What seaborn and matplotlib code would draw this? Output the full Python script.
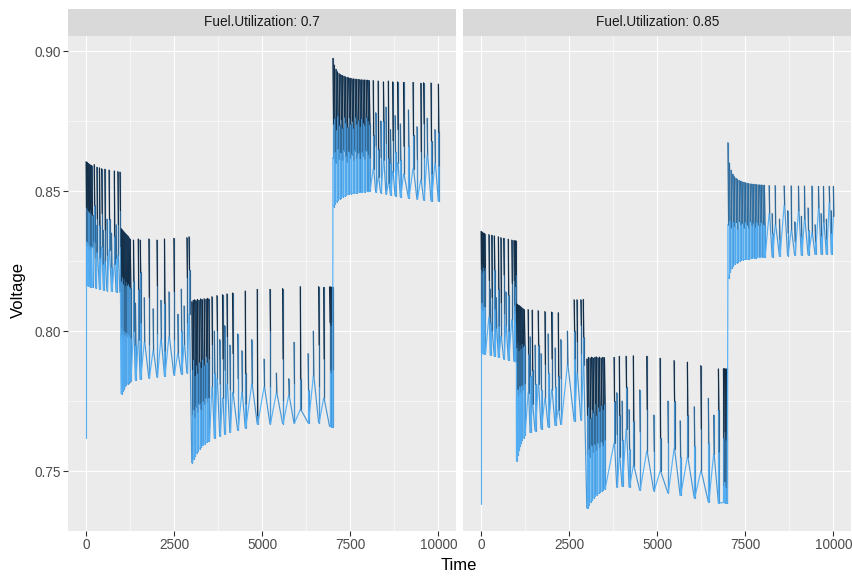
import matplotlib
matplotlib.use("Agg")
import matplotlib.pyplot as plt
import seaborn as sns
import pandas as pd
from matplotlib.colors import LinearSegmentedColormap, to_hex
from matplotlib.patches import Rectangle
from matplotlib.ticker import FixedLocator

# ---------------------------------------------------------------- data
FACETS = ["Fuel.Utilization: 0.7", "Fuel.Utilization: 0.85"]
# relative current level of the four steps of every sweep (low -> high)
CURRENT_LEVELS = [0.0, 0.45, 0.8, 1.0]
X_TICKS = [0, 2500, 5000, 7500, 10000]
Y_TICKS = [0.75, 0.80, 0.85, 0.90]

# first reading of each run (time h, voltage mV)
FU70_START = (0, 762.0)
FU85_START = (0, 738.3)

# sweeps, Fuel.Utilization 0.7 : time, voltage at current level 1..4 (mV), kind
FU70_T = [0, 20, 40, 60, 85, 110, 135, 160,
          230, 270, 305, 380, 440, 490, 530, 590, 650, 720, 800, 850, 900, 960,
          1000, 1025, 1050, 1075, 1100, 1130, 1160, 1190, 1220, 1250,
          1345, 1400, 1480, 1535, 1650, 1780, 1900, 2010, 2120, 2225, 2350, 2490, 2600, 2700, 2780, 2860, 2920,
          3000, 3040, 3080, 3120, 3160, 3200, 3250, 3300, 3350, 3400, 3440, 3480,
          3571, 3640, 3713, 3790, 3872, 3930, 3997, 4080, 4156, 4300, 4420, 4517, 4700, 4858, 5050, 5219,
          5400, 5577, 5750, 5900, 6080, 6300, 6450, 6600, 6742,
          6910, 6940, 6970, 6995,
          7005, 7045, 7090, 7135, 7180, 7225, 7270, 7315, 7360, 7405, 7450, 7495, 7540, 7585, 7630, 7675,
          7720, 7765, 7810, 7855, 7900, 7945, 7990, 8035,
          8150, 8220, 8290, 8360, 8440, 8510, 8580, 8640, 8700, 8770, 8840, 8920, 9010, 9150, 9280, 9390,
          9500, 9580, 9680, 9790, 9900, 10000]
FU70_V1 = [860.5, 860.3, 860.0, 859.8, 859.6, 859.4, 859.2, 859.0,
           859.5, 838.0, 858.5, 858.3, 858.0, 836.0, 857.8, 840.0, 857.5, 835.0, 857.2, 838.0, 857.0, 856.8,
           836.6, 836.2, 835.8, 835.4, 835.0, 834.6, 834.2, 833.8, 833.3, 832.8,
           832.5, 810.0, 832.9, 832.5, 812.0, 832.9, 808.0, 832.5, 811.0, 832.9, 814.0, 833.1, 806.0, 815.0, 809.0, 833.4, 833.7,
           810.5, 811.0, 811.2, 810.8, 811.3, 811.0, 811.5, 811.2, 811.6, 811.3, 811.7, 811.5,
           812.3, 800.0, 812.7, 797.0, 813.0, 802.0, 813.3, 795.0, 813.6, 799.0, 793.0, 814.3, 797.0, 814.9, 790.0, 814.9,
           785.0, 815.2, 783.0, 796.0, 815.9, 792.0, 800.0, 815.9, 815.6,
           815.8, 815.8, 815.7, 815.7,
           897.4, 895.0, 893.5, 892.6, 892.0, 891.6, 891.3, 891.0, 890.8, 890.6, 890.5, 890.3, 890.2, 890.1, 890.0, 889.9,
           889.9, 889.8, 889.8, 889.7, 889.7, 889.6, 889.6, 889.5,
           889.5, 878.0, 889.3, 875.0, 889.0, 880.0, 889.3, 872.0, 889.0, 877.0, 889.0, 874.0, 888.8, 879.0, 888.8, 873.0,
           888.5, 888.7, 876.0, 888.6, 872.0, 888.2]
FU70_V2 = [844.0, 844.5, 843.5, 843.0, 842.5, 843.2, 842.0, 841.5,
           845.0, 838.0, 840.0, 838.0, 842.0, 836.0, 836.0, 840.0, 840.0, 835.0, 834.0, 838.0, 838.0, 843.0,
           818.0, 819.5, 817.0, 818.5, 816.0, 817.5, 816.5, 817.0, 816.0, 815.5,
           818.0, 810.0, 815.0, 821.0, 812.0, 812.0, 808.0, 816.0, 811.0, 810.0, 814.0, 814.0, 806.0, 815.0, 809.0, 819.0, 822.0,
           786.0, 790.0, 784.0, 788.0, 785.0, 789.0, 787.0, 790.0, 788.0, 791.0, 789.0, 790.0,
           795.0, 800.0, 800.0, 797.0, 790.0, 802.0, 798.0, 795.0, 792.0, 799.0, 793.0, 785.0, 797.0, 770.0, 790.0, 800.0,
           785.0, 790.0, 783.0, 796.0, 783.0, 792.0, 800.0, 795.0, 790.0,
           803.0, 802.0, 804.0, 803.0,
           874.0, 876.0, 872.0, 877.0, 873.5, 875.5, 872.5, 876.5, 874.5, 873.0, 876.0, 874.0, 875.0, 872.5, 876.5, 874.0,
           875.5, 873.0, 876.0, 874.5, 873.5, 876.5, 875.0, 874.0,
           870.0, 878.0, 865.0, 875.0, 875.0, 880.0, 862.0, 872.0, 868.0, 877.0, 872.0, 874.0, 866.0, 879.0, 870.0, 873.0,
           864.0, 874.0, 876.0, 868.0, 872.0, 871.0]
FU70_V3 = [831.0, 832.0, 830.0, 831.5, 829.0, 830.5, 829.5, 830.0,
           832.0, 826.0, 828.0, 826.0, 830.0, 824.0, 825.0, 827.0, 829.0, 823.0, 824.0, 826.0, 827.0, 830.0,
           799.0, 801.0, 797.5, 800.0, 798.5, 799.5, 798.0, 799.0, 798.5, 797.5,
           800.0, 795.0, 797.0, 803.0, 796.0, 795.0, 793.0, 799.0, 797.0, 793.0, 798.0, 797.0, 792.0, 800.0, 795.0, 803.0, 806.0,
           770.0, 772.0, 769.0, 773.0, 771.0, 774.0, 772.0, 775.0, 774.0, 776.0, 775.0, 776.0,
           780.0, 785.0, 783.0, 781.0, 776.0, 786.0, 781.0, 779.0, 778.0, 783.0, 778.0, 774.0, 781.0, 768.0, 780.0, 780.0,
           778.0, 775.0, 777.0, 781.0, 772.0, 779.0, 784.0, 780.0, 776.0,
           786.0, 785.0, 787.0, 786.0,
           862.0, 864.0, 860.0, 865.0, 861.5, 863.5, 861.0, 864.5, 862.5, 860.5, 864.0, 862.0, 863.0, 861.0, 864.5, 862.0,
           863.5, 861.5, 864.0, 862.5, 861.5, 864.5, 863.0, 862.0,
           858.0, 866.0, 855.0, 862.0, 861.0, 867.0, 853.0, 860.0, 857.0, 864.0, 860.0, 861.0, 856.0, 866.0, 858.0, 861.0,
           854.0, 862.0, 863.0, 856.0, 860.0, 859.0]
FU70_V4 = [816.5, 816.3, 816.2, 816.1, 816.0, 815.9, 815.8, 815.7,
           815.5, 815.4, 815.2, 815.0, 814.8, 814.7, 814.6, 814.5, 814.4, 814.3, 814.2, 814.1, 814.0, 813.8,
           777.6, 778.5, 779.2, 779.8, 780.3, 780.8, 781.2, 781.6, 782.0, 782.2,
           782.4, 782.5, 782.6, 782.8, 783.0, 783.2, 783.4, 783.6, 783.8, 784.0, 784.2, 784.4, 784.6, 784.8, 785.0, 785.1, 785.2,
           753.0, 754.5, 755.5, 756.5, 757.2, 758.0, 758.7, 759.3, 759.8, 760.3, 760.6, 760.9,
           761.5, 761.8, 762.2, 762.5, 763.0, 763.2, 763.6, 763.8, 764.3, 764.6, 765.0, 765.5, 766.0, 766.9, 766.9, 766.9,
           767.0, 767.0, 767.1, 767.2, 767.2, 767.3, 767.3, 767.3, 767.2,
           766.0, 765.9, 765.9, 765.8,
           844.5, 845.5, 846.2, 846.8, 847.3, 847.7, 848.0, 848.3, 848.6, 848.8, 849.0, 849.1, 849.2, 849.3, 849.4, 849.5,
           849.6, 849.7, 849.7, 849.8, 849.8, 849.9, 849.9, 849.9,
           849.7, 849.6, 849.5, 849.4, 849.2, 849.0, 848.8, 848.7, 848.6, 848.4, 848.2, 848.0, 847.8, 847.6, 847.4, 847.2,
           847.0, 846.8, 846.7, 846.6, 846.5, 846.4]
FU70_KIND = ("dddddddd" + "ssssssssssssss" + "dddddddddd" + "sssssssssssssssss" + "dddddddddddd"
             + "sssssssssssssssssssssssss" + "dddd" + "dddddddddddddddddddddddd" + "ssssssssssssssssssssss")

# sweeps, Fuel.Utilization 0.85
FU85_T = [0, 20, 40, 60, 80, 100,
          220, 260, 300, 375, 430, 490, 560, 640, 700, 770, 870,
          930, 955, 975, 995,
          1005, 1035, 1065, 1095, 1125, 1155, 1190, 1225,
          1335, 1390, 1450, 1530, 1620, 1700, 1810, 1900, 2000, 2100, 2190, 2260, 2450, 2640, 2720, 2830, 2900,
          3000, 3045, 3090, 3135, 3180, 3225, 3270, 3315, 3360, 3405, 3450, 3500,
          3773, 3850, 3923, 4000, 4114, 4200, 4321, 4500, 4700, 4900, 5080, 5300, 5477, 5650, 5855, 6050,
          6236, 6450, 6600, 6736,
          6880, 6910, 6940, 6970,
          7005, 7050, 7095, 7140, 7185, 7230, 7275, 7320, 7365, 7410, 7455, 7500, 7545, 7590, 7635, 7680,
          7725, 7770, 7815, 7860, 7905, 7950, 7995, 8040,
          8176, 8260, 8347, 8470, 8602, 8700, 8801, 8900, 9009, 9090, 9179, 9280, 9389, 9480, 9577, 9650,
          9719, 9800, 9880, 9940, 10000]
FU85_V1 = [835.6, 835.4, 835.2, 835.0, 834.9, 834.8,
           834.5, 815.0, 834.2, 834.0, 812.0, 833.7, 833.4, 833.1, 814.0, 832.8, 832.5,
           832.3, 832.3, 832.2, 832.2,
           809.8, 809.5, 809.2, 808.9, 808.6, 808.3, 808.0, 807.7,
           807.7, 798.0, 807.5, 795.0, 807.3, 792.0, 807.0, 799.0, 806.8, 794.0, 806.6, 797.0, 800.0, 811.2, 811.2, 811.2, 811.3,
           790.0, 790.6, 790.4, 790.7, 790.3, 790.6, 790.8, 790.5, 790.7, 790.4, 790.6, 790.5,
           790.6, 778.0, 791.0, 775.0, 791.0, 772.0, 791.2, 779.0, 791.0, 770.0, 790.3, 775.0, 789.5, 768.0, 788.9, 773.0,
           787.7, 776.0, 770.0, 786.5,
           786.6, 786.6, 786.5, 786.5,
           867.3, 860.0, 857.5, 856.0, 855.2, 854.6, 854.2, 853.8, 853.5, 853.3, 853.1, 853.0, 852.8, 852.7, 852.6, 852.5,
           852.4, 852.4, 852.3, 852.3, 852.2, 852.2, 852.1, 852.1,
           852.0, 842.0, 852.0, 840.0, 851.9, 843.0, 851.9, 839.0, 851.8, 841.0, 851.8, 844.0, 851.8, 838.0, 851.7, 842.0,
           851.7, 840.0, 851.7, 843.0, 851.7]
FU85_V2 = [822.0, 824.0, 821.0, 823.0, 821.5, 822.5,
           818.0, 815.0, 812.0, 822.0, 812.0, 815.0, 810.0, 820.0, 814.0, 813.0, 817.0,
           818.0, 822.0, 816.0, 820.0,
           794.0, 796.0, 793.0, 795.0, 793.5, 795.5, 794.5, 795.0,
           792.0, 798.0, 786.0, 795.0, 795.0, 792.0, 788.0, 799.0, 790.0, 794.0, 784.0, 797.0, 800.0, 800.0, 796.0, 802.0, 798.0,
           770.0, 773.0, 769.0, 772.0, 771.0, 774.0, 770.0, 773.0, 771.5, 773.5, 772.0, 774.0,
           775.0, 778.0, 770.0, 775.0, 780.0, 772.0, 768.0, 779.0, 772.0, 770.0, 762.0, 775.0, 775.0, 768.0, 770.0, 773.0,
           765.0, 776.0, 770.0, 772.0,
           762.0, 764.0, 761.0, 763.0,
           867.3, 860.0, 857.5, 856.0, 855.2, 854.6, 854.2, 853.8, 853.5, 853.3, 853.1, 853.0, 852.8, 852.7, 852.6, 852.5,
           852.4, 852.4, 852.3, 852.3, 852.2, 852.2, 852.1, 852.1,
           852.0, 842.0, 852.0, 840.0, 851.9, 843.0, 851.9, 839.0, 851.8, 841.0, 851.8, 844.0, 851.8, 838.0, 851.7, 842.0,
           851.7, 840.0, 851.7, 843.0, 851.7]
FU85_V3 = [808.0, 810.0, 807.0, 809.0, 807.5, 808.5,
           805.0, 803.0, 800.0, 808.0, 801.0, 802.0, 798.0, 806.0, 802.0, 800.0, 804.0,
           806.0, 809.0, 803.0, 807.0,
           776.0, 779.0, 777.0, 780.0, 778.0, 780.5, 779.0, 781.0,
           778.0, 784.0, 774.0, 781.0, 781.0, 779.0, 776.0, 785.0, 779.0, 780.0, 772.0, 783.0, 788.0, 790.0, 785.0, 792.0, 788.0,
           756.0, 758.0, 755.0, 759.0, 757.0, 759.5, 757.5, 760.0, 758.5, 760.5, 759.0, 761.0,
           760.0, 763.0, 755.0, 761.0, 765.0, 758.0, 752.0, 764.0, 757.0, 757.0, 750.0, 760.0, 758.0, 755.0, 755.0, 759.0,
           750.0, 760.0, 756.0, 757.0,
           745.0, 746.0, 744.0, 745.5,
           838.0, 839.5, 837.0, 839.0, 837.5, 838.8, 836.5, 839.2, 837.8, 838.5, 837.0, 839.0, 838.0, 836.8, 839.2, 837.6,
           838.6, 837.2, 839.0, 838.0, 837.4, 838.8, 838.2, 837.8,
           842.0, 835.0, 838.0, 833.0, 845.0, 835.0, 836.0, 832.0, 843.0, 834.0, 840.0, 836.0, 835.0, 832.0, 844.0, 834.0,
           839.0, 833.0, 846.0, 835.0, 841.0]
FU85_V4 = [792.5, 792.3, 792.1, 791.9, 791.8, 791.7,
           791.5, 791.4, 791.2, 791.0, 790.8, 790.6, 790.3, 790.0, 789.9, 789.7, 789.5,
           789.3, 789.2, 789.1, 789.0,
           753.6, 755.8, 757.5, 759.0, 760.2, 761.2, 762.0, 762.8,
           763.5, 763.8, 764.2, 764.5, 764.9, 765.2, 765.6, 765.8, 766.1, 766.3, 766.6, 766.7, 767.0, 768.0, 768.2, 768.3, 768.4,
           736.8, 738.0, 739.0, 739.8, 740.5, 741.1, 741.6, 742.1, 742.5, 742.9, 743.3, 743.7,
           744.0, 744.3, 744.6, 744.6, 744.6, 744.4, 743.4, 743.2, 743.1, 743.0, 742.8, 742.3, 741.6, 741.3, 741.0, 740.5,
           739.2, 739.0, 738.8, 738.6,
           738.8, 738.7, 738.6, 738.6,
           818.8, 821.0, 822.5, 823.3, 824.0, 824.5, 824.8, 825.1, 825.3, 825.5, 825.6, 825.7, 825.8, 825.9, 826.0, 826.1,
           826.2, 826.2, 826.3, 826.4, 826.4, 826.5, 826.5, 826.5,
           826.5, 826.6, 826.7, 826.8, 826.9, 827.0, 827.1, 827.1, 827.2, 827.2, 827.3, 827.3, 827.4, 827.4, 827.5, 827.5,
           827.6, 827.6, 827.7, 827.7, 827.8]
FU85_KIND = ("dddddd" + "sssssssssss" + "dddd" + "dddddddd" + "sssssssssssssssss" + "dddddddddddd"
             + "ssssssssssssssssssss" + "dddd" + "dddddddddddddddddddddddd" + "sssssssssssssssssssss")

# ---------------------------------------------------------------- style
SPIKE_W = 15
LOW, HIGH = "#132B43", "#56B1F7"
cmap = LinearSegmentedColormap.from_list("gg", [LOW, HIGH])

sns.set_theme(style="darkgrid", rc={
    "axes.facecolor": "#EBEBEB", "figure.facecolor": "white",
    "grid.color": "white", "axes.edgecolor": "none",
    "xtick.color": "#333333", "ytick.color": "#333333",
    "xtick.labelcolor": "#4D4D4D", "ytick.labelcolor": "#4D4D4D",
})
plt.rcParams["font.family"] = ["Liberation Sans", "DejaVu Sans"]


def sweep_points(start, T, V1, V2, V3, V4, KIND):
    """Expand the sweeps into the measured sequence (time, voltage, level)."""
    pts = [(start[0], start[1], 3)]
    prev_end = 3
    n = len(T)
    for i, (t, a, b, c, d, k) in enumerate(zip(T, V1, V2, V3, V4, KIND)):
        lv = [(a, 0), (b, 1), (c, 2), (d, 3)]
        if a == b:
            lv = lv[1:]
        if k == "d":
            gap = (T[i + 1] - t) if i + 1 < n else 20
            w = min(0.5 * gap, 22)
            s_lvl, e_lvl = 3, 3
        else:
            w = SPIKE_W
            s_lvl = 2 if prev_end == 3 else 3
            e_lvl = s_lvl
        pts += [(t, v, j) for v, j in lv[::-1] if j <= s_lvl]
        pts += [(t + w, v, j) for v, j in lv[1:] if j <= e_lvl]
        prev_end = e_lvl
    return pts


def to_frame(pts, tag):
    runs = []
    for i in range(len(pts) - 1):
        lvl = pts[i][2]
        if runs and runs[-1][0] == lvl:
            runs[-1][1].append(pts[i + 1])
        else:
            runs.append((lvl, [pts[i], pts[i + 1]]))
    rows, order, pal = [], [], {}
    for k, (lvl, seg) in enumerate(runs):
        rid = f"{tag}{k:05d}"
        order.append(rid)
        pal[rid] = to_hex(cmap(CURRENT_LEVELS[lvl]))
        for t, v, _ in seg:
            rows.append({"Time": t, "Voltage": v / 1000.0, "run": rid,
                         "Current": CURRENT_LEVELS[lvl]})
    return pd.DataFrame(rows), order, pal


panels = [
    to_frame(sweep_points(FU70_START, FU70_T, FU70_V1, FU70_V2, FU70_V3, FU70_V4, FU70_KIND), "a"),
    to_frame(sweep_points(FU85_START, FU85_T, FU85_V1, FU85_V2, FU85_V3, FU85_V4, FU85_KIND), "b"),
]

W, H = 853, 578
fig = plt.figure(figsize=(W / 100, H / 100), dpi=100)
pan_b, pan_h = 47.5, 494.5
lefts = [68.5, 463.5]
pan_w = 387.5
strip_h = 27

for j, (df, order, pal) in enumerate(panels):
    ax = fig.add_axes([lefts[j] / W, pan_b / H, pan_w / W, pan_h / H])
    sns.lineplot(data=df, x="Time", y="Voltage", hue="run", hue_order=order,
                 palette=pal, sort=False, estimator=None, legend=False,
                 linewidth=0.85, ax=ax)
    ax.set_xlim(-500, 10500)
    ax.set_ylim(0.7288, 0.9054)
    ax.set_xticks(X_TICKS)
    ax.set_yticks(Y_TICKS)
    ax.xaxis.set_minor_locator(FixedLocator([1250, 3750, 6250, 8750]))
    ax.yaxis.set_minor_locator(FixedLocator([0.775, 0.825, 0.875]))
    ax.grid(True, which="major", color="white", linewidth=0.8)
    ax.grid(True, which="minor", color="white", linewidth=0.4)
    ax.set_axisbelow(True)
    for s in ax.spines.values():
        s.set_visible(False)
    ax.tick_params(axis="x", which="major", length=3.3, width=0.8, pad=2.2,
                   labelsize=9.8, bottom=True)
    ax.tick_params(which="minor", length=0)
    if j == 0:
        ax.tick_params(axis="y", which="major", length=3.3, width=0.8, pad=2.2,
                       labelsize=9.8, left=True)
        ax.set_yticklabels([f"{v:.2f}" for v in Y_TICKS])
    else:
        ax.tick_params(axis="y", which="major", length=0, labelleft=False)
    ax.set_xlabel("")
    ax.set_ylabel("")
    ax.add_patch(Rectangle((0, 1), 1, strip_h / pan_h, transform=ax.transAxes,
                           facecolor="#D9D9D9", edgecolor="none", clip_on=False))
    ax.text(0.5, 1 + strip_h / pan_h / 2, FACETS[j], transform=ax.transAxes,
            ha="center", va="center", fontsize=9.8, color="#1A1A1A")

fig.text(459 / W, 1 - 566 / H, "Time", ha="center", va="center", fontsize=12, color="black")
fig.text(18 / W, 1 - 290 / H, "Voltage", ha="center", va="center", rotation=90,
         fontsize=12, color="black")

fig.savefig("out.png", dpi=100)
